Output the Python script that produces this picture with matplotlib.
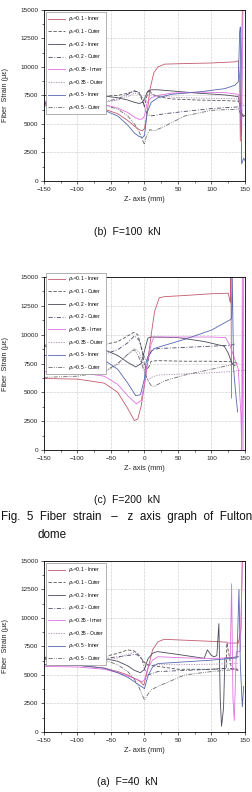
import matplotlib
matplotlib.use("Agg")
import matplotlib.pyplot as plt
from matplotlib.ticker import MultipleLocator

plt.rcParams['font.family'] = ['Liberation Sans', 'DejaVu Sans']

# ---------------- data: (b) F=100 kN ----------------
B_01I_Z = [-150, -100, -60, -40, -25, -15, -8, -3, 0, 4, 8, 14, 20, 30, 60, 100, 135, 140, 142, 143, 144, 146]
B_01I_V = [6700, 6600, 6300, 5900, 5300, 4800, 4500, 4400, 4600, 6000, 8000, 9500, 10000, 10250, 10300, 10350, 10450, 10550, 9000, 3500, 8000, 15000]
B_01O_Z = [-150, -100, -60, -40, -25, -15, -8, -3, 0, 3, 6, 12, 20, 40, 80, 120, 140, 143, 146, 150]
B_01O_V = [7500, 7500, 7450, 7500, 7700, 7900, 7700, 7000, 6500, 7300, 8000, 7600, 7400, 7200, 7100, 7050, 7000, 6800, 5700, 5600]
B_02I_Z = [-150, -100, -60, -40, -25, -15, -8, -3, 0, 4, 10, 20, 40, 80, 120, 140, 144, 147, 150]
B_02I_V = [7500, 7500, 7450, 7300, 7100, 6900, 6800, 6900, 7200, 7800, 8000, 8000, 7900, 7700, 7550, 7400, 6000, 5800, 5700]
B_02O_Z = [-150, -100, -60, -40, -25, -15, -8, -3, 0, 3, 8, 15, 30, 60, 100, 140, 144, 148]
B_02O_V = [6900, 6900, 6950, 7200, 7600, 7900, 7800, 7200, 6500, 6000, 5700, 5750, 5900, 6100, 6350, 6500, 6000, 5600]
B_035I_Z = [-150, -100, -60, -40, -25, -15, -8, -3, 0, 4, 10, 20, 40, 80, 120, 140, 143, 145, 147]
B_035I_V = [7000, 6950, 6700, 6400, 6000, 5600, 5400, 5450, 5700, 6900, 7300, 7500, 7700, 7800, 7750, 7600, 6500, 4000, 15000]
B_035O_Z = [-150, -100, -60, -40, -25, -15, -8, -3, 0, 3, 8, 15, 30, 60, 100, 140, 145, 150]
B_035O_V = [6900, 6900, 6900, 7100, 7400, 7700, 7600, 7300, 7000, 7500, 7700, 7500, 7400, 7300, 7250, 7200, 6800, 6500]
B_05I_Z = [-150, -100, -60, -40, -25, -15, -8, -3, 0, 4, 10, 20, 40, 80, 120, 135, 140, 142, 143, 145, 148, 150]
B_05I_V = [6600, 6500, 6200, 5700, 4900, 4200, 3900, 3800, 4000, 6000, 6900, 7300, 7600, 7800, 8100, 8400, 8700, 13000, 13500, 1500, 2000, 1800]
B_05O_Z = [-150, -100, -60, -40, -25, -15, -8, -3, 0, 3, 8, 15, 30, 60, 100, 140, 145, 150]
B_05O_V = [6800, 6750, 6650, 6300, 5700, 5000, 4300, 3600, 3200, 4000, 4500, 4400, 4800, 5700, 6200, 6300, 5700, 5600]

# ---------------- data: (c) F=200 kN ----------------
C_01I_Z = [-150, -100, -60, -40, -25, -15, -10, -5, 0, 5, 10, 15, 22, 30, 60, 100, 125, 128, 129, 130]
C_01I_V = [6200, 6150, 5800, 5000, 3600, 2550, 2700, 3800, 5600, 7800, 10000, 12000, 13200, 13300, 13400, 13550, 13600, 12800, 15000, 4500]
C_01O_Z = [-150, -100, -60, -40, -25, -16, -10, -5, 0, 5, 10, 20, 60, 100, 130, 135, 140]
C_01O_V = [9100, 9100, 9150, 9400, 9900, 10200, 10000, 9000, 7400, 7000, 7700, 7750, 7700, 7700, 7650, 7600, 7500]
C_02I_Z = [-150, -100, -60, -40, -25, -13, -5, 0, 5, 10, 50, 90, 119, 125, 130, 135]
C_02I_V = [9000, 8950, 8700, 8200, 7600, 7200, 7500, 8600, 9700, 9800, 9750, 9400, 9000, 8400, 7600, 7300]
C_02O_Z = [-150, -100, -60, -40, -25, -15, -8, 0, 5, 10, 20, 60, 100, 130, 135]
C_02O_V = [8200, 8150, 8300, 8700, 9300, 9900, 9500, 8000, 7700, 8600, 8800, 8900, 9000, 9100, 9200]
C_035I_Z = [-150, -100, -60, -40, -25, -12, -5, 0, 5, 10, 14, 60, 100, 121, 128, 140, 144, 145, 146, 147, 148]
C_035I_V = [6800, 6750, 6400, 5700, 4700, 4000, 4300, 5800, 7800, 9200, 9800, 9800, 9800, 9750, 9000, 7000, 3000, 0, 15000, 0, 15000]
C_035O_Z = [-150, -100, -60, -40, -25, -15, -8, 0, 5, 10, 20, 60, 100, 130, 140, 150]
C_035O_V = [6600, 6600, 6800, 7400, 8300, 8800, 8500, 7000, 6000, 6300, 6500, 6600, 6700, 6800, 6900, 6900]
C_05I_Z = [-150, -100, -60, -40, -25, -13, -6, 0, 2, 5, 10, 14, 60, 100, 128, 130, 131, 133, 136, 139]
C_05I_V = [8200, 8150, 7800, 7000, 5800, 4700, 4800, 6200, 7500, 8100, 8500, 8800, 9600, 10400, 11300, 11400, 15000, 7000, 5000, 3300]
C_05O_Z = [-150, -100, -60, -40, -25, -15, -8, 0, 5, 10, 14, 30, 60, 100, 130, 140]
C_05O_V = [6300, 6400, 6800, 7500, 8300, 8700, 8000, 6800, 6000, 5600, 5500, 6000, 6500, 7000, 7400, 7500]

# ---------------- data: (a) F=40 kN ----------------
A_01I_Z = [-150, -100, -60, -40, -25, -15, -8, -1, 5, 12, 20, 29, 60, 100, 123, 124, 140, 144, 146]
A_01I_V = [5900, 5850, 5600, 5300, 5000, 4700, 4500, 4100, 5500, 7200, 7900, 8130, 8050, 7950, 7880, 7800, 7800, 9000, 15000]
A_01O_Z = [-150, -100, -60, -40, -25, -15, -8, 0, 5, 15, 50, 100, 122, 123, 130, 140]
A_01O_V = [6500, 6500, 6600, 6900, 7200, 7100, 6700, 6100, 5900, 5800, 5500, 5500, 5600, 7800, 5500, 5400]
A_02I_Z = [-150, -100, -60, -40, -25, -15, -6, 0, 5, 12, 19, 50, 89, 94, 100, 104, 108, 111, 113, 115, 118, 120, 125, 140]
A_02I_V = [6550, 6550, 6450, 6200, 5800, 5400, 5200, 5500, 6400, 6900, 7050, 6800, 6460, 7200, 6700, 6600, 6700, 9500, 3000, 500, 2100, 6500, 6500, 6600]
A_02O_Z = [-150, -100, -60, -40, -25, -15, -10, -3, 0, 5, 20, 60, 100, 140]
A_02O_V = [6400, 6400, 6450, 6600, 6700, 6800, 6750, 6300, 5500, 5000, 5300, 5400, 5500, 5600]
A_035I_Z = [-150, -100, -60, -40, -25, -15, -3, 0, 5, 12, 20, 60, 100, 128, 130, 132, 134, 137, 143, 146]
A_035I_V = [5750, 5700, 5500, 5200, 4900, 4700, 4400, 4600, 5600, 6300, 6600, 6500, 6450, 6500, 13000, 3000, 1000, 7000, 7100, 15000]
A_035O_Z = [-150, -100, -60, -40, -25, -15, -8, 0, 5, 15, 60, 100, 140]
A_035O_V = [6200, 6200, 6300, 6500, 6800, 7000, 6800, 6000, 5800, 5900, 5900, 5950, 6000]
A_05I_Z = [-150, -100, -60, -40, -25, -15, -5, 0, 5, 12, 20, 60, 100, 138, 141, 143, 146, 148]
A_05I_V = [5900, 5850, 5600, 5200, 4800, 4400, 4000, 3800, 4900, 5700, 6000, 6150, 6300, 6500, 12500, 6000, 2200, 4000]
A_05O_Z = [-150, -100, -60, -40, -25, -15, -8, -3, 0, 5, 10, 20, 60, 100, 140]
A_05O_V = [6400, 6400, 6300, 5900, 5300, 4600, 3900, 3200, 2800, 3300, 3700, 4000, 5000, 5300, 5500]

LABELS = [r'$\rho_c$=0.1 - Inner', r'$\rho_c$=0.1 - Outer', r'$\rho_c$=0.2 - Inner', r'$\rho_c$=0.2 - Outer',
          r'$\rho_c$=0.35 - Inner', r'$\rho_c$=0.35 - Outer', r'$\rho_c$=0.5 - Inner', r'$\rho_c$=0.5 - Outer']
X_TICKS = [-150, -100, -50, 0, 50, 100, 150]
Y_TICKS = [0, 2500, 5000, 7500, 10000, 12500, 15000]

COLORS = ['#c25a6e', '#555555', '#4a4a5a', '#4a4a6a', '#e070e0', '#a888a8', '#5566b0', '#6a6a6a']
STYLES = ['-', (0, (4, 2)), '-', (0, (5, 2, 1, 2)), '-', (0, (1.5, 1.5)), '-', (0, (5, 1.5, 1, 1.5, 1, 1.5))]

B_SERIES = [(B_01I_Z, B_01I_V), (B_01O_Z, B_01O_V), (B_02I_Z, B_02I_V), (B_02O_Z, B_02O_V),
            (B_035I_Z, B_035I_V), (B_035O_Z, B_035O_V), (B_05I_Z, B_05I_V), (B_05O_Z, B_05O_V)]
C_SERIES = [(C_01I_Z, C_01I_V), (C_01O_Z, C_01O_V), (C_02I_Z, C_02I_V), (C_02O_Z, C_02O_V),
            (C_035I_Z, C_035I_V), (C_035O_Z, C_035O_V), (C_05I_Z, C_05I_V), (C_05O_Z, C_05O_V)]
A_SERIES = [(A_01I_Z, A_01I_V), (A_01O_Z, A_01O_V), (A_02I_Z, A_02I_V), (A_02O_Z, A_02O_V),
            (A_035I_Z, A_035I_V), (A_035O_Z, A_035O_V), (A_05I_Z, A_05I_V), (A_05O_Z, A_05O_V)]

fig = plt.figure(figsize=(2.52, 7.92), dpi=100)

def make_panel(rect, series, legend_anchor):
    ax = fig.add_axes(rect)
    for (z, v), c, ls, lab in zip(series, COLORS, STYLES, LABELS):
        ax.plot(z, v, color=c, linestyle=ls, linewidth=0.6, label=lab)
    ax.set_xlim(-150, 150)
    ax.set_ylim(0, 15000)
    ax.set_xticks(X_TICKS)
    ax.set_yticks(Y_TICKS)
    ax.xaxis.set_minor_locator(MultipleLocator(25))
    ax.yaxis.set_minor_locator(MultipleLocator(1250))
    ax.tick_params(which='major', direction='out', length=2.5, width=0.5, labelsize=4.6, pad=1.5, colors='#222222')
    ax.tick_params(which='minor', direction='out', length=1.5, width=0.4)
    ax.grid(True, which='major', linestyle=(0, (1, 1.5)), linewidth=0.4, color='#999999')
    for s in ax.spines.values():
        s.set_linewidth(0.6)
    ax.set_xlabel('Z- axis (mm)', fontsize=5.2, labelpad=3.5, color='#222222')
    ax.set_ylabel('Fiber  Strain (\u03bc\u03b5)', fontsize=5.2, labelpad=8, color='#222222')
    leg = ax.legend(loc='upper left', bbox_to_anchor=legend_anchor, fontsize=3.5, handlelength=3.4,
                    handletextpad=0.6, labelspacing=0.75, borderpad=0.4, frameon=True, fancybox=False,
                    edgecolor='#777777', framealpha=1.0)
    leg.get_frame().set_linewidth(0.4)
    return ax

make_panel([0.1746, 0.7715, 0.7976, 0.2159], B_SERIES, (0.0, 1.0))
make_panel([0.1746, 0.4318, 0.7976, 0.2184], C_SERIES, (0.0, 1.04))
make_panel([0.1746, 0.0758, 0.7976, 0.2159], A_SERIES, (0.0, 1.0))

fig.text(0.506, 0.707, '(b)  F=100  kN', ha='center', va='center', fontsize=7.5, color='#111111')
fig.text(0.506, 0.369, '(c)  F=200  kN', ha='center', va='center', fontsize=7.5, color='#111111')
fig.text(0.004, 0.347, 'Fig.  5  Fiber  strain   \u2013   z  axis  graph  of  Fulton', ha='left', va='center',
         fontsize=8.4, color='#111111')
fig.text(0.147, 0.3245, 'dome', ha='left', va='center', fontsize=8.4, color='#111111')
fig.text(0.506, 0.0126, '(a)  F=40  kN', ha='center', va='center', fontsize=7.5, color='#111111')

fig.savefig('out.png', dpi=100)
